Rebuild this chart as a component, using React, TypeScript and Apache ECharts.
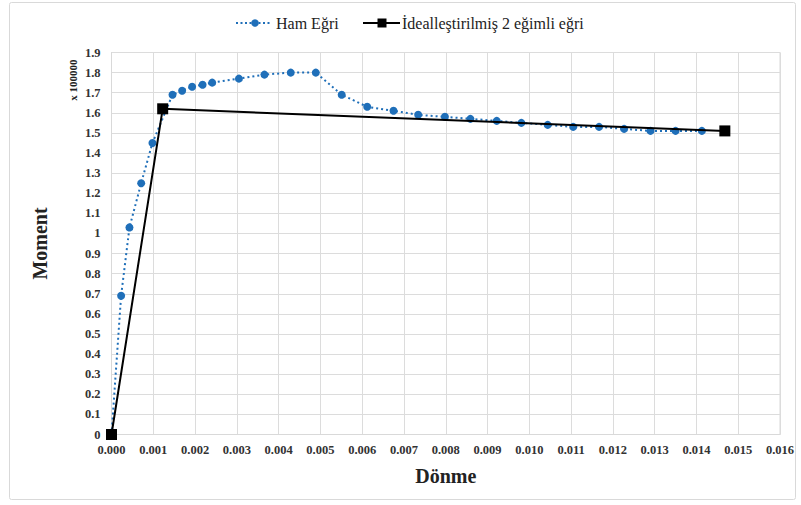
import React, { useEffect, useRef } from "react";
import * as echarts from "echarts";

const hamX = [0, 0.00023, 0.00043, 0.00071, 0.00098, 0.00146, 0.00169, 0.00193, 0.00218, 0.00241, 0.00305, 0.00366, 0.00429, 0.00489, 0.00551, 0.00612, 0.00675, 0.00734, 0.00798, 0.00859, 0.00922, 0.00981, 0.01044, 0.01105, 0.01167, 0.01227, 0.0129, 0.0135, 0.01413];
const hamY = [0, 0.69, 1.03, 1.25, 1.45, 1.69, 1.71, 1.73, 1.74, 1.75, 1.77, 1.79, 1.8, 1.8, 1.69, 1.63, 1.61, 1.59, 1.58, 1.57, 1.56, 1.55, 1.54, 1.53, 1.53, 1.52, 1.51, 1.51, 1.51];
const idealX = [0, 0.001225, 0.01468];
const idealY = [0, 1.62, 1.51];
const seriesNames = ["Ham Eğri", "İdealleştirilmiş 2 eğimli eğri"];
const xTitle = "Dönme";
const yTitle = "Moment";
const yUnit = "x 100000";

const serif = "Liberation Serif";
const BLUE = "#1f6fb9";

export default function App() {
  const ref = useRef<HTMLDivElement>(null);
  useEffect(() => {
    if (!ref.current) return;
    const chart = echarts.init(ref.current, null, { renderer: "svg" });
    const ly = 23;
    chart.setOption({
      animation: false,
      backgroundColor: "#ffffff",
      textStyle: { fontFamily: serif },
      legend: { show: false },
      grid: { left: 111.5, right: 21, top: 52.5, bottom: 70.5, containLabel: false },
      xAxis: {
        type: "value",
        min: 0,
        max: 0.016,
        interval: 0.001,
        name: xTitle,
        nameLocation: "middle",
        nameGap: 31,
        nameTextStyle: { fontFamily: serif, fontSize: 20, fontWeight: "bold", color: "#222" },
        axisLine: { lineStyle: { color: "#d9d9d9" } },
        axisTick: { show: false },
        axisLabel: {
          fontFamily: serif,
          fontSize: 12.5,
          fontWeight: "bold",
          color: "#333",
          margin: 9,
          formatter: (v: number) => v.toFixed(3),
        },
        splitLine: { show: true, lineStyle: { color: "#dcdcdc" } },
      },
      yAxis: {
        type: "value",
        min: 0,
        max: 1.9,
        interval: 0.1,
        name: yTitle,
        nameLocation: "middle",
        nameGap: 62,
        nameRotate: 90,
        nameTextStyle: { fontFamily: serif, fontSize: 20, fontWeight: "bold", color: "#222" },
        axisLine: { show: true, lineStyle: { color: "#d9d9d9" } },
        axisTick: { show: false },
        axisLabel: {
          fontFamily: serif,
          fontSize: 12.5,
          fontWeight: "bold",
          color: "#333",
          margin: 11,
          formatter: (v: number) => String(+v.toFixed(1)),
        },
        splitLine: { show: true, lineStyle: { color: "#dcdcdc" } },
      },
      graphic: [
        {
          type: "rect",
          shape: { x: 9.5, y: 2.5, width: 786, height: 497, r: 2 },
          style: { fill: "none", stroke: "#d9d9d9", lineWidth: 1 },
          silent: true,
        },
        {
          type: "rect",
          shape: { x: 111.5, y: 52.5, width: 668.5, height: 382 },
          style: { fill: "none", stroke: "#d9d9d9", lineWidth: 1 },
          silent: true,
        },
        {
          type: "text",
          x: 73,
          y: 80,
          rotation: Math.PI / 2,
          style: {
            text: yUnit,
            fontFamily: serif,
            fontSize: 11,
            fontWeight: "bold",
            fill: "#222",
            align: "center",
            verticalAlign: "middle",
          },
        },
        {
          type: "line",
          shape: { x1: 236, y1: ly, x2: 272, y2: ly },
          style: { stroke: BLUE, lineWidth: 2, lineDash: [2, 2.5] },
        },
        {
          type: "circle",
          shape: { cx: 255, cy: ly, r: 3.8 },
          style: { fill: BLUE },
        },
        {
          type: "text",
          x: 276,
          y: ly,
          style: {
            text: seriesNames[0],
            fontFamily: serif,
            fontSize: 16,
            fill: "#222",
            align: "left",
            verticalAlign: "middle",
          },
        },
        {
          type: "line",
          shape: { x1: 363, y1: ly, x2: 400, y2: ly },
          style: { stroke: "#000", lineWidth: 2 },
        },
        {
          type: "rect",
          shape: { x: 377.5, y: ly - 4.5, width: 9, height: 9 },
          style: { fill: "#000" },
        },
        {
          type: "text",
          x: 402,
          y: ly,
          style: {
            text: seriesNames[1],
            fontFamily: serif,
            fontSize: 16,
            fill: "#222",
            align: "left",
            verticalAlign: "middle",
          },
        },
      ],
      series: [
        {
          name: seriesNames[0],
          type: "line",
          data: hamX.map((x, i) => [x, hamY[i]]),
          symbol: "circle",
          symbolSize: 8,
          showSymbol: true,
          color: BLUE,
          lineStyle: { color: BLUE, width: 2, type: [2, 3] },
          itemStyle: { color: BLUE },
          z: 2,
        },
        {
          name: seriesNames[1],
          type: "line",
          data: idealX.map((x, i) => [x, idealY[i]]),
          symbol: "rect",
          symbolSize: 11,
          color: "#000000",
          lineStyle: { color: "#000000", width: 2 },
          itemStyle: { color: "#000000" },
          z: 3,
        },
      ],
    });
    return () => chart.dispose();
  }, []);
  return (
    <div
      ref={ref}
      style={{ position: "fixed", left: 0, top: 0, width: 801, height: 505 }}
    />
  );
}
